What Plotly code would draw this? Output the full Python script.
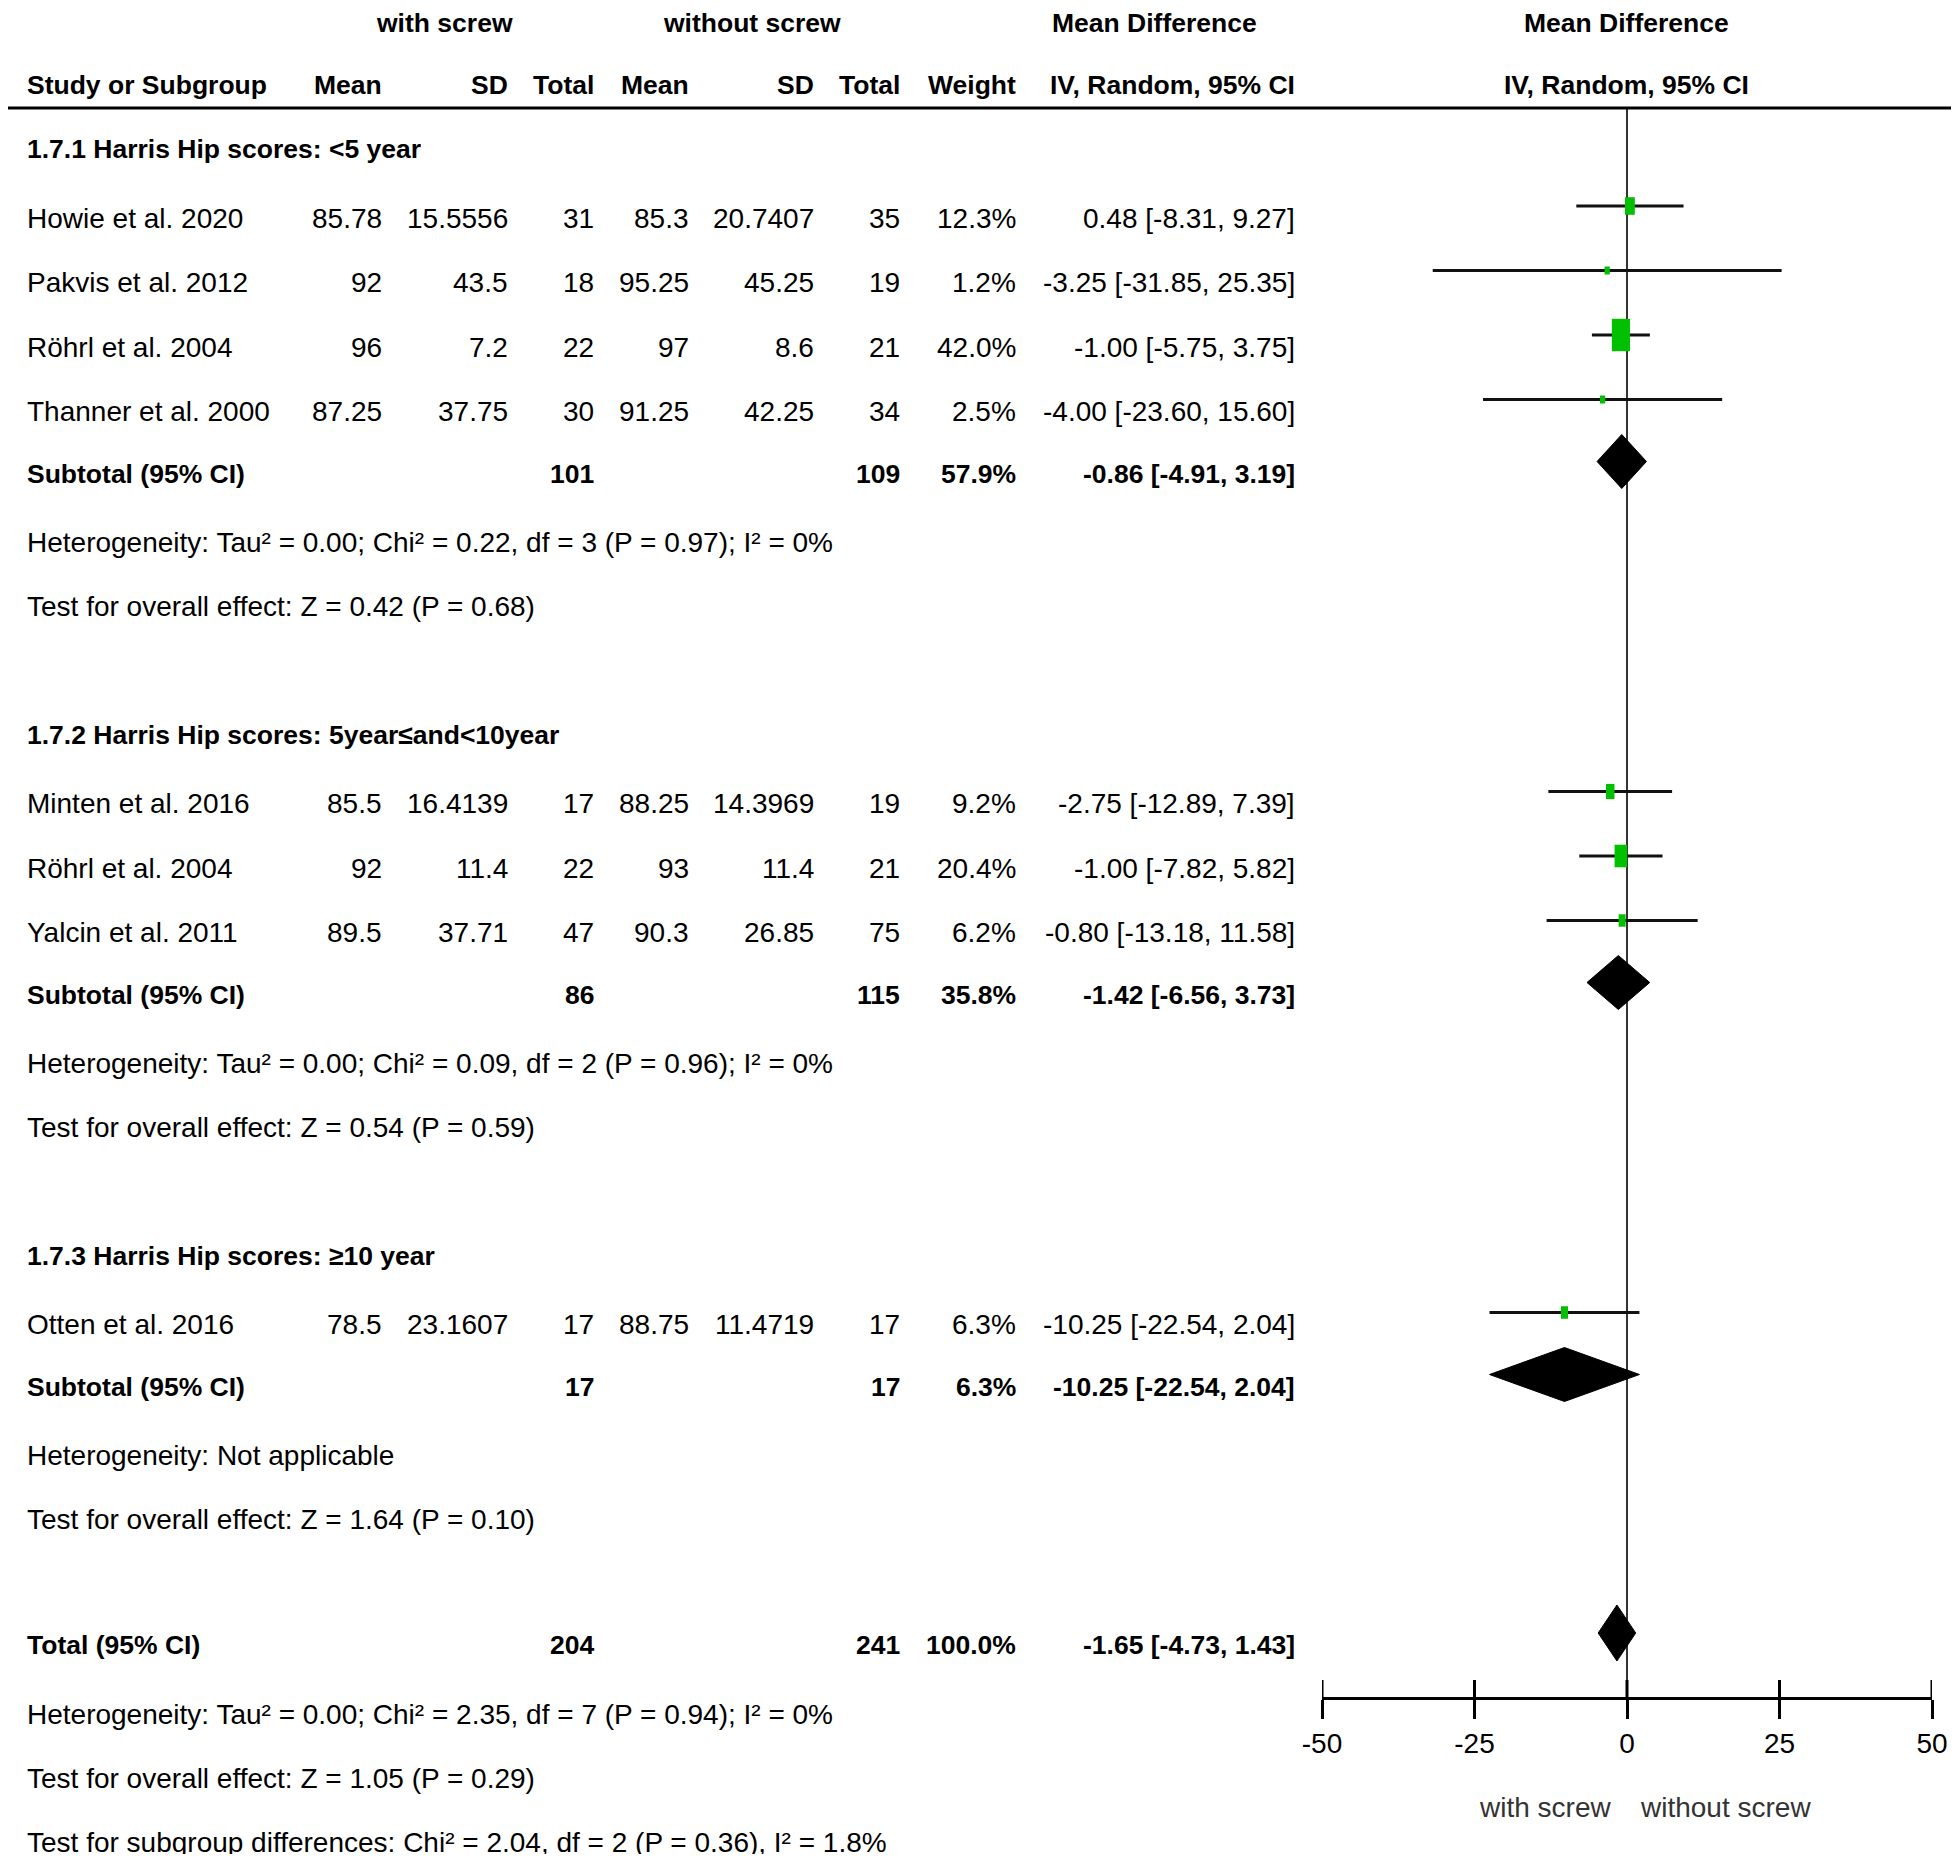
import plotly.graph_objects as go
import math

# ---------------- data ----------------
studies = ["Howie et al. 2020", "Pakvis et al. 2012", "Röhrl et al. 2004", "Thanner et al. 2000",
           "Minten et al. 2016", "Röhrl et al. 2004", "Yalcin et al. 2011",
           "Otten et al. 2016"]
study_group = [0, 0, 0, 0, 1, 1, 1, 2]
mean_with = [85.78, 92, 96, 87.25, 85.5, 92, 89.5, 78.5]
sd_with = [15.5556, 43.5, 7.2, 37.75, 16.4139, 11.4, 37.71, 23.1607]
n_with = [31, 18, 22, 30, 17, 22, 47, 17]
mean_without = [85.3, 95.25, 97, 91.25, 88.25, 93, 90.3, 88.75]
sd_without = [20.7407, 45.25, 8.6, 42.25, 14.3969, 11.4, 26.85, 11.4719]
n_without = [35, 19, 21, 34, 19, 21, 75, 17]
weight = [12.3, 1.2, 42.0, 2.5, 9.2, 20.4, 6.2, 6.3]
md = [0.48, -3.25, -1.00, -4.00, -2.75, -1.00, -0.80, -10.25]
ci_lo = [-8.31, -31.85, -5.75, -23.60, -12.89, -7.82, -13.18, -22.54]
ci_hi = [9.27, 25.35, 3.75, 15.60, 7.39, 5.82, 11.58, 2.04]

group_names = ["1.7.1 Harris Hip scores: <5 year",
               "1.7.2 Harris Hip scores: 5year≤and<10year",
               "1.7.3 Harris Hip scores: ≥10 year"]
group_n_with = [101, 86, 17]
group_n_without = [109, 115, 17]
group_weight = [57.9, 35.8, 6.3]
group_md = [-0.86, -1.42, -10.25]
group_lo = [-4.91, -6.56, -22.54]
group_hi = [3.19, 3.73, 2.04]
group_het = ["Heterogeneity: Tau² = 0.00; Chi² = 0.22, df = 3 (P = 0.97); I² = 0%",
             "Heterogeneity: Tau² = 0.00; Chi² = 0.09, df = 2 (P = 0.96); I² = 0%",
             "Heterogeneity: Not applicable"]
group_test = ["Test for overall effect: Z = 0.42 (P = 0.68)",
              "Test for overall effect: Z = 0.54 (P = 0.59)",
              "Test for overall effect: Z = 1.64 (P = 0.10)"]

total_n_with = 204
total_n_without = 241
total_weight = 100.0
total_md = -1.65
total_lo = -4.73
total_hi = 1.43
total_het = "Heterogeneity: Tau² = 0.00; Chi² = 2.35, df = 7 (P = 0.94); I² = 0%"
total_test = "Test for overall effect: Z = 1.05 (P = 0.29)"
subgroup_test = "Test for subgroup differences: Chi² = 2.04, df = 2 (P = 0.36), I² = 1.8%"

axis_ticks = [-50, -25, 0, 25, 50]
axis_ticktext = ["-50", "-25", "0", "25", "50"]
favours_left = "with screw"
favours_right = "without screw"

# ---------------- layout constants ----------------
W, H = 1959, 1862
OFF = 8                      # page body margin
FW, FH = W - 2 * OFF, H - 2 * OFF
FONT = "Liberation Sans, Arial, sans-serif"
FS = 28
FSB = 26.5
PX0, PX1 = 1322, 1932          # page-pixel extent of forest axis
AXIS_Y = 1698
HEAD_LINE_Y = 108
MARK_OFF = -12

# column anchors (page pixel x)
COL_STUDY = 25
COL_MW, COL_SDW, COL_NW = 384, 510, 596
COL_MWO, COL_SDWO, COL_NWO = 691, 816, 902
COL_WT = 1018
COL_CI_L, COL_CI_R = 1050, 1297
PLOT_CENTER = 1626

px_per_unit = (PX1 - PX0) / 100.0


def fmt(v):
    return f"{v:g}"


def ci_text(m, l, h):
    return f"{m:.2f} [{l:.2f}, {h:.2f}]"


# row positions
y = 149
group_rows = []
for g in range(3):
    gr = {"header": y}
    y += 69
    srows = []
    for i, sg in enumerate(study_group):
        if sg == g:
            srows.append((i, y))
            y += 64.5
    y -= 64.5
    y += 62
    gr["studies"] = srows
    gr["subtotal"] = y
    y += 69
    gr["het"] = y
    y += 64
    gr["test"] = y
    y += 128
    group_rows.append(gr)
y -= 2.5
total_y = y
total_het_y = y + 69
total_test_y = y + 133
subgroup_y = y + 197

ann = []


def txt(x, yy, s, anchor="right", bold=False, size=None, color="#000000", xref="x"):
    ann.append(dict(x=x, y=yy, xref=xref, yref="y", text=(f"<b>{s}</b>" if bold else s),
                    showarrow=False, xanchor=anchor, yanchor="middle",
                    font=dict(family=FONT, size=size or (FSB if bold else FS), color=color)))


# headers
txt(444, 23, "with screw", "center", bold=True)
txt(752, 23, "without screw", "center", bold=True)
txt(COL_CI_L, 23, "Mean Difference", "left", bold=True)
txt(PLOT_CENTER, 23, "Mean Difference", "center", bold=True)
txt(COL_STUDY, 85, "Study or Subgroup", "left", bold=True)
txt(COL_MW, 85, "Mean", bold=True)
txt(COL_SDW, 85, "SD", bold=True)
txt(COL_NW, 85, "Total", bold=True)
txt(COL_MWO, 85, "Mean", bold=True)
txt(COL_SDWO, 85, "SD", bold=True)
txt(COL_NWO, 85, "Total", bold=True)
txt(COL_WT, 85, "Weight", bold=True)
txt(COL_CI_R, 85, "IV, Random, 95% CI", bold=True)
txt(PLOT_CENTER, 85, "IV, Random, 95% CI", "center", bold=True)

fig = go.Figure()

# zero line
fig.add_trace(go.Scatter(x=[0, 0], y=[HEAD_LINE_Y, AXIS_Y], mode="lines", xaxis="x2", yaxis="y",
                         line=dict(color="#333333", width=2), hoverinfo="skip", showlegend=False))

for g, gr in enumerate(group_rows):
    txt(COL_STUDY, gr["header"], group_names[g], "left", bold=True)
    for i, yy in gr["studies"]:
        txt(COL_STUDY, yy, studies[i], "left")
        txt(COL_MW, yy, fmt(mean_with[i]))
        txt(COL_SDW, yy, fmt(sd_with[i]))
        txt(COL_NW, yy, fmt(n_with[i]))
        txt(COL_MWO, yy, fmt(mean_without[i]))
        txt(COL_SDWO, yy, fmt(sd_without[i]))
        txt(COL_NWO, yy, fmt(n_without[i]))
        txt(COL_WT, yy, f"{weight[i]:.1f}%")
        txt(COL_CI_R, yy, ci_text(md[i], ci_lo[i], ci_hi[i]))
        my = yy + MARK_OFF
        fig.add_trace(go.Scatter(x=[ci_lo[i], ci_hi[i]], y=[my, my], mode="lines", xaxis="x2", yaxis="y",
                                 line=dict(color="#111111", width=3), hoverinfo="skip", showlegend=False))
        hw = max(2.6, 1.4 * math.sqrt(weight[i])) / px_per_unit
        hh = max(4.0, 2.5 * math.sqrt(weight[i]))
        fig.add_trace(go.Scatter(x=[md[i] - hw, md[i] + hw, md[i] + hw, md[i] - hw, md[i] - hw],
                                 y=[my - hh, my - hh, my + hh, my + hh, my - hh],
                                 mode="lines", fill="toself", fillcolor="#00C000",
                                 line=dict(width=0, color="#00C000"), xaxis="x2", yaxis="y",
                                 hoverinfo="skip", showlegend=False))
    ys = gr["subtotal"]
    txt(COL_STUDY, ys, "Subtotal (95% CI)", "left", bold=True)
    txt(COL_NW, ys, fmt(group_n_with[g]), bold=True)
    txt(COL_NWO, ys, fmt(group_n_without[g]), bold=True)
    txt(COL_WT, ys, f"{group_weight[g]:.1f}%", bold=True)
    txt(COL_CI_R, ys, ci_text(group_md[g], group_lo[g], group_hi[g]), bold=True)
    my = ys + MARK_OFF
    fig.add_trace(go.Scatter(x=[group_lo[g], group_md[g], group_hi[g], group_md[g], group_lo[g]],
                             y=[my, my - 27, my, my + 27, my], mode="lines", fill="toself",
                             fillcolor="#000000", line=dict(color="#000000", width=1),
                             xaxis="x2", yaxis="y", hoverinfo="skip", showlegend=False))
    txt(COL_STUDY, gr["het"], group_het[g], "left")
    txt(COL_STUDY, gr["test"], group_test[g], "left")

# total
txt(COL_STUDY, total_y, "Total (95% CI)", "left", bold=True)
txt(COL_NW, total_y, fmt(total_n_with), bold=True)
txt(COL_NWO, total_y, fmt(total_n_without), bold=True)
txt(COL_WT, total_y, f"{total_weight:.1f}%", bold=True)
txt(COL_CI_R, total_y, ci_text(total_md, total_lo, total_hi), bold=True)
my = total_y + MARK_OFF
fig.add_trace(go.Scatter(x=[total_lo, total_md, total_hi, total_md, total_lo],
                         y=[my, my - 28, my, my + 28, my], mode="lines", fill="toself",
                         fillcolor="#000000", line=dict(color="#000000", width=1),
                         xaxis="x2", yaxis="y", hoverinfo="skip", showlegend=False))
txt(COL_STUDY, total_het_y, total_het, "left")
txt(COL_STUDY, total_test_y, total_test, "left")
txt(COL_STUDY, subgroup_y, subgroup_test, "left")

# upper halves of axis ticks
tx, ty = [], []
for t in axis_ticks:
    tx += [t, t, None]
    ty += [AXIS_Y - 18, AXIS_Y, None]
fig.add_trace(go.Scatter(x=tx, y=ty, mode="lines", xaxis="x2", yaxis="y",
                         line=dict(color="#000000", width=3), hoverinfo="skip", showlegend=False))

# favours labels
txt(-2.3, 1807, favours_left, "right", color="#333333", xref="x2")
txt(1.8, 1807, favours_right, "left", color="#333333", xref="x2")

fig.update_layout(
    width=FW, height=FH, margin=dict(l=0, r=0, t=0, b=0, pad=0), autosize=False,
    paper_bgcolor="white", plot_bgcolor="white",
    annotations=ann,
    shapes=[dict(type="line", xref="x", yref="y", x0=OFF, x1=OFF + FW, y0=HEAD_LINE_Y, y1=HEAD_LINE_Y,
                 line=dict(color="#000000", width=3))],
    xaxis=dict(domain=[0, 1], range=[OFF, OFF + FW], visible=False, fixedrange=True, automargin=False),
    yaxis=dict(domain=[0, 1], range=[OFF + FH, OFF], visible=False, fixedrange=True, automargin=False),
    xaxis2=dict(domain=[(PX0 - OFF) / FW, (PX1 - OFF) / FW], range=[-50, 50], anchor="free",
                position=(FH - (AXIS_Y - OFF)) / FH, showline=True, linecolor="#000000", linewidth=3,
                ticks="outside", ticklen=19, tickwidth=3, tickcolor="#000000",
                tickvals=axis_ticks, ticktext=axis_ticktext, showgrid=False, zeroline=False,
                tickfont=dict(family=FONT, size=FS, color="#000000"), fixedrange=True,
                automargin=False),
    showlegend=False,
)

fig.write_html("out.html")
